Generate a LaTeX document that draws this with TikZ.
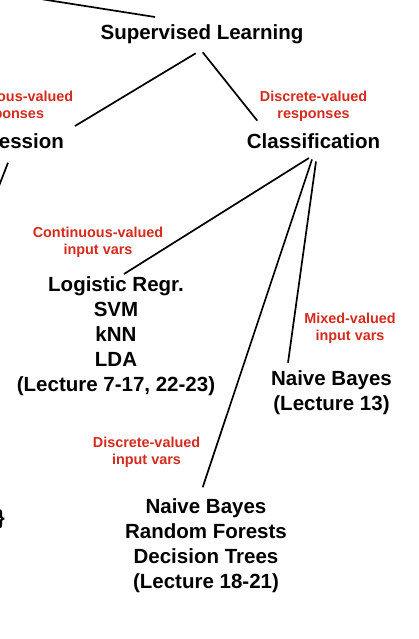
\documentclass[tikz,border=0pt]{standalone}
\usepackage{fontspec}
\setmainfont{Liberation Sans}
\usetikzlibrary{calc}
\definecolor{lblred}{RGB}{213,43,30}
\begin{document}
\begin{tikzpicture}[x=1pt,y=-1pt,
  main/.style={inner sep=0pt,anchor=base,align=center,font=\fontsize{20.5}{25}\selectfont\bfseries},
  lbl/.style={inner sep=0pt,anchor=base,align=center,text=lblred,font=\fontsize{14.4}{17}\selectfont\bfseries},
  edge/.style={line width=1.7pt,black}]
\clip (0,0) rectangle (419,639);
\fill[white] (0,0) rectangle (419,639);
% nodes (multi-line nodes are placed by the baseline of their last line)
\node[main] (sl) at (202,40) {Supervised Learning};
\node[main] (reg) at (8,149) {Regression};
\node[main] (cls) at (313.5,148.3) {Classification};
\node[main] (lr) at (116,391.7) {Logistic Regr.\\SVM\\kNN\\LDA\\(Lecture 7-17, 22-23)};
\node[main] (nbm) at (331.5,410) {Naive Bayes\\(Lecture 13)};
\node[main] (nbd) at (206,588.3) {Naive Bayes\\Random Forests\\Decision Trees\\(Lecture 18-21)};
\node[main,anchor=base east] (brace) at (5,524) {\}};
% labels
\node[lbl] (lcr) at (8,119) {Continuous-valued\\responses};
\node[lbl] (ldr) at (313.5,119) {Discrete-valued\\responses};
\node[lbl] (lci) at (98,254.3) {Continuous-valued\\input vars};
\node[lbl] (lmi) at (350,340.3) {Mixed-valued\\input vars};
\node[lbl] (ldi) at (146.5,464.8) {Discrete-valued\\input vars};
% off-canvas ends
\coordinate (parent) at (-150,-31);
\coordinate (regchild) at (-8,204);
% connectors
\draw[edge] (parent) -- ($(sl.base)+(-47,-23)$);
\draw[edge] ($(sl.base)+(-6.3,13.3)$) -- ($(reg.base)+(67,-23)$);
\draw[edge] ($(sl.base)+(0.7,12.3)$) -- ($(cls.base)+(-56.2,-27.6)$);
\draw[edge] ($(reg.base)+(0,13.7)$) -- (regchild);
\draw[edge] ($(cls.base)+(-4.5,9.7)$) -- ($(lr.base)+(8,-117.7)$);
\draw[edge] ($(cls.base)+(-1.5,11.2)$) -- ($(nbd.base)+(-3.3,-101)$);
\draw[edge] ($(cls.base)+(2.5,13.2)$) -- ($(nbm.base)+(-43.5,-47.3)$);
\end{tikzpicture}
\end{document}
